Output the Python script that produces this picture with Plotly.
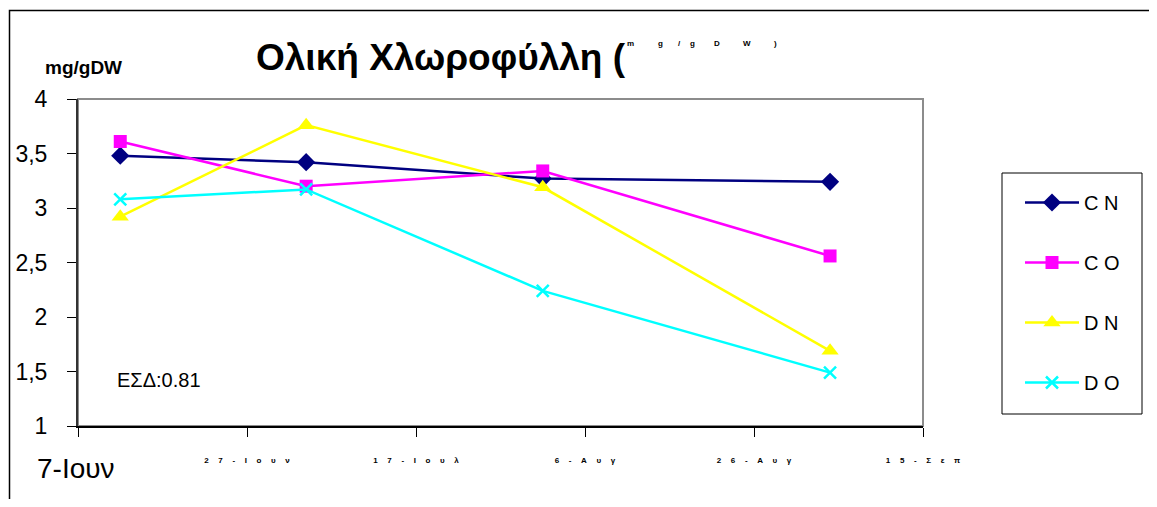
import plotly.graph_objects as go

# ---- data ----
dates = ["2005-06-12", "2005-07-04", "2005-08-01", "2005-09-04"]
series_names = ["C N", "C O", "D N", "D O"]
cn = [3.48, 3.42, 3.27, 3.24]
co = [3.61, 3.20, 3.34, 2.56]
dn = [2.92, 3.76, 3.19, 1.69]
do = [3.08, 3.17, 2.24, 1.49]
tick_dates = ["2005-06-07", "2005-06-27", "2005-07-17", "2005-08-06", "2005-08-26", "2005-09-15"]
tick_labels = ["7-Ιουν", "27-Ιουν", "17-Ιουλ", "6-Αυγ", "26-Αυγ", "15-Σεπ"]
y_ticks = [1, 1.5, 2, 2.5, 3, 3.5, 4]
title_main = "Ολική Χλωροφύλλη ("
title_unit_chars = ["m", "g", "/", "g", "D", "W", ")"]
y_unit = "mg/gDW"
esd_text = "ΕΣΔ:0.81"

colors = ["#000080", "#FF00FF", "#FFFF00", "#00FFFF"]
symbols = ["diamond", "square", "triangle-up", "x-thin"]
sizes = [14, 13, 15, 12]

# page body has an 8px margin -> figure origin at (8, 8) in the window
L, T, PW, PH = 70, 91, 845, 327
W, H = 1141, 491


def px_x(x):  # window x -> paper x
    return (x - 8 - L) / PW


def px_y(y):  # window y -> paper y
    return (T + PH - (y - 8)) / PH


def spaced(s, sep="\u2003\u2009"):
    return "<b>" + sep.join(list(s)) + "</b>"


fig = go.Figure()
for name, vals, c, sym, sz in zip(series_names, [cn, co, dn, do], colors, symbols, sizes):
    marker = dict(symbol=sym, size=sz, color=c)
    if sym == "x-thin":
        marker["line"] = dict(color=c, width=2.5)
    fig.add_trace(go.Scatter(
        x=dates, y=vals, name=name, mode="lines+markers",
        line=dict(color=c, width=2.5), marker=marker,
        legendgroup=name,
    ))

ticktext = [""] + [spaced(t) for t in tick_labels[1:]]

fig.update_layout(
    width=W, height=H,
    margin=dict(l=L, r=W - L - PW, t=T, b=H - T - PH, autoexpand=False),
    paper_bgcolor="white", plot_bgcolor="white",
    separators=",.",
    font=dict(family="Arial, Liberation Sans, sans-serif", color="black"),
    xaxis=dict(
        type="date", range=[tick_dates[0], tick_dates[-1]],
        tickmode="array", tickvals=tick_dates, ticktext=ticktext,
        tickfont=dict(size=8), automargin=False,
        ticks="outside", ticklen=9, tickcolor="black", tickwidth=1.2,
        showline=True, linecolor="black", linewidth=2,
        showgrid=False, zeroline=False, ticklabelstandoff=16,
    ),
    yaxis=dict(
        range=[1, 4], tickmode="array", tickvals=y_ticks,
        tickformat=".1~f", automargin=False,
        tickfont=dict(size=23),
        ticks="outside", ticklen=9, tickcolor="black", tickwidth=1.2,
        showline=True, linecolor="#333333", linewidth=2,
        showgrid=False, zeroline=False, ticklabelstandoff=15,
    ),
    legend=dict(
        x=px_x(1020), y=px_y(183), xanchor="left", yanchor="top",
        borderwidth=0, bgcolor="rgba(0,0,0,0)",
        font=dict(size=20), traceorder="grouped", tracegroupgap=31,
        itemwidth=54,
    ),
    showlegend=True,
)

# plot frame (gray top/right)
fig.add_shape(type="rect", xref="x domain", yref="y domain", x0=0, x1=1, y0=0, y1=1,
              line=dict(color="#8c8c8c", width=2), layer="below")
# outer chart border
fig.add_shape(type="rect", xref="paper", yref="paper", x0=px_x(9.5), x1=px_x(1200),
              y0=px_y(560), y1=px_y(10.5),
              line=dict(color="black", width=1.5), layer="below")
# legend box
fig.add_shape(type="rect", xref="paper", yref="paper", x0=px_x(1002), x1=px_x(1142),
              y0=px_y(414), y1=px_y(173),
              line=dict(color="black", width=1), layer="below")

# title pieces
fig.add_annotation(text="<b>" + title_main + "</b>", xref="paper", yref="paper",
                   x=px_x(254), y=px_y(57), xanchor="left", yanchor="middle", showarrow=False,
                   font=dict(size=37, color="black"))
unit_x = [626, 657, 677, 689, 713, 742, 773]
for ch, ux in zip(title_unit_chars, unit_x):
    fig.add_annotation(text="<b>" + ch + "</b>", xref="paper", yref="paper",
                       x=px_x(ux), y=px_y(43), xanchor="left", yanchor="middle",
                       showarrow=False, borderpad=0, font=dict(size=8, color="black"))
fig.add_annotation(text="<b>" + y_unit + "</b>", xref="paper", yref="paper",
                   x=px_x(43), y=px_y(68), xanchor="left", yanchor="middle", showarrow=False,
                   font=dict(size=19, color="black"))
fig.add_annotation(text=esd_text, xref="paper", yref="paper",
                   x=px_x(115), y=px_y(380), xanchor="left", yanchor="middle", showarrow=False,
                   font=dict(size=20, color="black"))
fig.add_annotation(text=tick_labels[0], xref="paper", yref="paper",
                   x=px_x(35), y=px_y(468), xanchor="left", yanchor="middle", showarrow=False,
                   font=dict(size=28, color="black"))

fig.write_html("out.html")
